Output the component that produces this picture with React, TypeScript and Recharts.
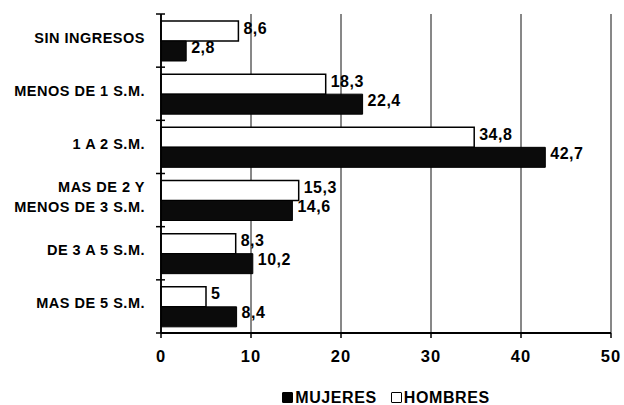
import { BarChart, Bar, XAxis, YAxis, CartesianGrid, LabelList } from 'recharts';

// Income brackets (top to bottom) and the share (%) for each group
const categories = [
  'SIN INGRESOS',
  'MENOS DE 1 S.M.',
  '1 A 2 S.M.',
  'MAS DE 2 Y\nMENOS DE 3 S.M.',
  'DE 3 A 5 S.M.',
  'MAS DE 5 S.M.',
];
const hombres = [8.6, 18.3, 34.8, 15.3, 8.3, 5];
const mujeres = [2.8, 22.4, 42.7, 14.6, 10.2, 8.4];
const xTicks = [0, 10, 20, 30, 40, 50];

const data = categories.map((name, i) => ({ name, hombres: hombres[i], mujeres: mujeres[i] }));

const FONT = '"Liberation Sans", Arial, Helvetica, sans-serif';
const WIDTH = 624;
const HEIGHT = 405;
const MARGIN = { top: 14, right: 13, left: 0, bottom: 42 };
const X_AXIS_HEIGHT = 30;
const Y_AXIS_WIDTH = 161;
const BAND = (HEIGHT - MARGIN.top - MARGIN.bottom - X_AXIS_HEIGHT) / categories.length;

const fmt = (v: number) => String(v).replace('.', ',');

// Category label plus the small tick marks that sit on the band boundaries
function CategoryTick(props: any) {
  const { x, y, payload, index } = props;
  const lines = String(payload.value).split('\n');
  const axisX = x + 16;
  const half = BAND / 2;
  const cy = y - 3;
  return (
    <g>
      <text
        x={x}
        y={cy}
        textAnchor="end"
        dominantBaseline="central"
        fill="#000"
        fontFamily={FONT}
        fontWeight={700}
        fontSize={14.5}
        letterSpacing={0.5}
      >
        {lines.map((l, i) => (
          <tspan key={i} x={x} dy={i === 0 ? -(lines.length - 1) * 10 : 20}>
            {l}
          </tspan>
        ))}
      </text>
      <line x1={axisX - 5} x2={axisX + 4} y1={y - half} y2={y - half} stroke="#000" strokeWidth={1.5} />
      {index === categories.length - 1 && (
        <line x1={axisX - 5} x2={axisX + 4} y1={y + half} y2={y + half} stroke="#000" strokeWidth={1.5} />
      )}
    </g>
  );
}

function ValueLabel(props: any) {
  const { x, y, width, height, value, lift } = props;
  return (
    <text
      x={x + width + 5}
      y={y + height / 2 - lift}
      dominantBaseline="central"
      fill="#000"
      fontFamily={FONT}
      fontWeight={700}
      fontSize={16}
      letterSpacing={0.5}
    >
      {fmt(value)}
    </text>
  );
}

function LegendBox() {
  const item = (fill: string, label: string) => (
    <div style={{ display: 'flex', alignItems: 'center', margin: '0 7px' }}>
      <span
        style={{
          display: 'inline-block',
          width: 9,
          height: 9,
          background: fill,
          border: '1.5px solid #000',
          borderRadius: 1,
          marginRight: 2,
        }}
      />
      <span>{label}</span>
    </div>
  );
  return (
    <div
      style={{
        position: 'absolute',
        top: 390,
        left: Y_AXIS_WIDTH,
        width: WIDTH - Y_AXIS_WIDTH - MARGIN.right,
        height: 15,
        display: 'flex',
        justifyContent: 'center',
        fontFamily: FONT,
        fontWeight: 700,
        fontSize: 16,
        lineHeight: '15px',
        letterSpacing: 0.6,
        color: '#000',
      }}
    >
      {item('#000', 'MUJERES')}
      {item('#fff', 'HOMBRES')}
    </div>
  );
}

export default function App() {
  return (
    <div
      style={{
        position: 'absolute',
        left: 0,
        top: 0,
        width: WIDTH,
        height: HEIGHT,
        overflow: 'hidden',
        background: '#fff',
      }}
    >
      <BarChart
        width={WIDTH}
        height={HEIGHT}
        data={data}
        layout="vertical"
        margin={MARGIN}
        barCategoryGap={7}
        barGap={0}
      >
        <CartesianGrid horizontal={false} stroke="#111" strokeWidth={1} />
        <XAxis
          type="number"
          domain={[0, 50]}
          ticks={xTicks}
          height={X_AXIS_HEIGHT}
          tickSize={5}
          tickMargin={12}
          axisLine={{ stroke: '#000', strokeWidth: 1.8 }}
          tickLine={{ stroke: '#000', strokeWidth: 1.5 }}
          tick={{ fill: '#000', fontFamily: FONT, fontWeight: 700, fontSize: 16.5, letterSpacing: 1 }}
        />
        <YAxis
          type="category"
          dataKey="name"
          width={Y_AXIS_WIDTH}
          tickSize={0}
          tickMargin={16}
          tickLine={false}
          axisLine={{ stroke: '#000', strokeWidth: 1.8 }}
          tick={<CategoryTick />}
          interval={0}
        />
        <Bar dataKey="hombres" name="HOMBRES" fill="#fff" stroke="#000" strokeWidth={1.5} isAnimationActive={false}>
          <LabelList dataKey="hombres" content={(p: any) => <ValueLabel {...p} lift={3} />} />
        </Bar>
        <Bar dataKey="mujeres" name="MUJERES" fill="#0b0b0b" stroke="#000" strokeWidth={1} isAnimationActive={false}>
          <LabelList dataKey="mujeres" content={(p: any) => <ValueLabel {...p} lift={4} />} />
        </Bar>
      </BarChart>
      <LegendBox />
    </div>
  );
}
